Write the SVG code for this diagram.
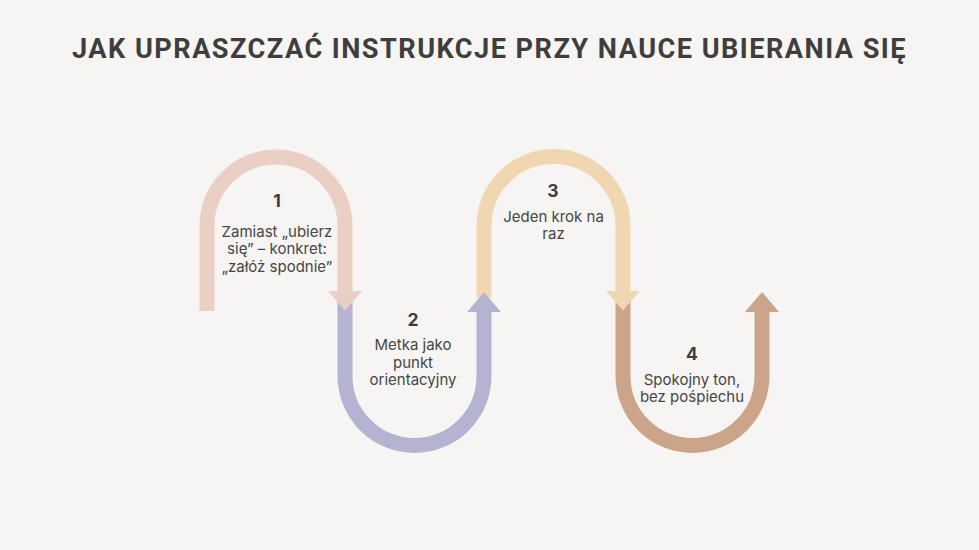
<svg xmlns="http://www.w3.org/2000/svg" width="979" height="550" viewBox="0 0 979 550">
<style>
.bg{fill:#F6F5F3}
.title{font-family:Roboto,"Liberation Sans",sans-serif;font-weight:700;font-size:28px;fill:#3E3E3E;letter-spacing:1.5px}
.num{font-family:Inter,"Liberation Sans",sans-serif;font-weight:700;font-size:17.5px;fill:#3E3E3E;text-anchor:middle}
.lbl{font-family:Inter,"Liberation Sans",sans-serif;font-size:15px;fill:#454545;text-anchor:middle}
.arc{fill:none;stroke-width:15}
.pink{stroke:#E9CFC4}.pinkf{fill:#E9CFC4}
.purple{stroke:#B4B4D2}.purplef{fill:#B4B4D2}
.yellow{stroke:#F1D7B1}.yellowf{fill:#F1D7B1}
.brown{stroke:#CCA48A}.brownf{fill:#CCA48A}
</style>
<rect class="bg" x="0" y="0" width="979" height="550"/>
<text class="title" x="72" y="58" textLength="835" lengthAdjust="spacingAndGlyphs">JAK UPRASZCZAĆ INSTRUKCJE PRZY NAUCE UBIERANIA SIĘ</text>
<g id="connectors">
<path class="arc pink" d="M207,311 V226 A69,69 0 0 1 345,226 V293"/>
<path class="arc purple" d="M345,300 V376 A69.5,69.5 0 0 0 484,376 V311"/>
<path class="arc yellow" d="M484,297 V226 A69.5,69.5 0 0 1 623,226 V293"/>
<path class="arc brown" d="M623,300 V376 A69.5,69.5 0 0 0 762,376 V311"/>
<polygon class="pinkf" points="328,291 362,291 345,310.5"/>
<polygon class="purplef" points="467,312 501,312 484,292"/>
<polygon class="yellowf" points="606,291 640,291 623,310.5"/>
<polygon class="brownf" points="745,312 779,312 762,292"/>
</g>
<g id="step1">
<text class="num" x="277" y="206.5">1</text>
<text class="lbl" x="277" y="236.5">Zamiast „ubierz</text>
<text class="lbl" x="277" y="254">się” – konkret:</text>
<text class="lbl" x="277" y="271.5">„załóż spodnie”</text>
</g>
<g id="step2">
<text class="num" x="413" y="325.5">2</text>
<text class="lbl" x="413" y="350">Metka jako</text>
<text class="lbl" x="413" y="367.5">punkt</text>
<text class="lbl" x="413" y="385">orientacyjny</text>
</g>
<g id="step3">
<text class="num" x="553" y="196.5">3</text>
<text class="lbl" x="553.5" y="221.5">Jeden krok na</text>
<text class="lbl" x="553.5" y="239">raz</text>
</g>
<g id="step4">
<text class="num" x="692" y="359.5">4</text>
<text class="lbl" x="692" y="384.5">Spokojny ton,</text>
<text class="lbl" x="692" y="402">bez pośpiechu</text>
</g>
</svg>
